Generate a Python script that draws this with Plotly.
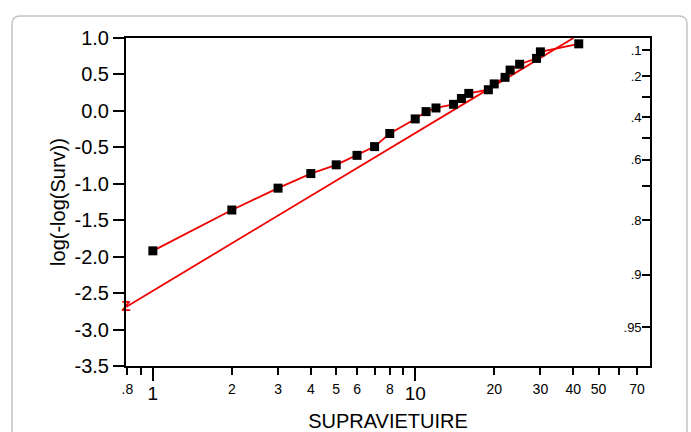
import math
import plotly.graph_objects as go

# ---- data ----
surv_time = [1, 2, 3, 4, 5, 6, 7, 8, 10, 11, 12, 14, 15, 16, 19, 20, 22, 23, 25, 29, 30, 42]
loglog_surv = [-1.92, -1.36, -1.06, -0.86, -0.74, -0.61, -0.49, -0.31, -0.11, -0.01, 0.04,
               0.09, 0.17, 0.24, 0.29, 0.37, 0.46, 0.56, 0.64, 0.72, 0.81, 0.92]
fit_time = [0.79, 40.1]
fit_value = [-2.69, 1.0]

y_ticks = [1.0, 0.5, 0.0, -0.5, -1.0, -1.5, -2.0, -2.5, -3.0, -3.5]
surv_probs = [0.1, 0.2, 0.3, 0.4, 0.5, 0.6, 0.7, 0.8, 0.9, 0.95]
surv_labels = [".1", ".2", "", ".4", "", ".6", "", ".8", ".9", ".95"]
x_major = [1, 10]
x_major_labels = ["1", "10"]
x_minor = [0.8, 0.9, 2, 3, 4, 5, 6, 7, 8, 9, 20, 30, 40, 50, 60, 70]
x_minor_labels = [".8", "", "2", "3", "4", "5", "6", "", "8", "", "20", "30", "40", "50", "", "70"]

X_RANGE = [math.log10(0.79), math.log10(78.5)]
Y_RANGE = [-3.5, 1.0]
FONT = "Liberation Sans, Arial, sans-serif"
RED = "#f00000"

fig = go.Figure()

fig.add_trace(go.Scatter(
    x=fit_time, y=fit_value, xaxis="x", yaxis="y2", mode="lines",
    line=dict(color=RED, width=1.8), showlegend=False, hoverinfo="skip"))
fig.add_trace(go.Scatter(
    x=fit_time[:1], y=fit_value[:1], xaxis="x", yaxis="y", mode="text",
    text=["<b>Z</b>"], textposition="middle center",
    textfont=dict(color=RED, size=15, family=FONT), showlegend=False, hoverinfo="skip",
    cliponaxis=False))
fig.add_trace(go.Scatter(
    x=surv_time, y=loglog_surv, xaxis="x2", yaxis="y", mode="lines+markers",
    line=dict(color=RED, width=1.8),
    marker=dict(symbol="square", size=9, color="black"),
    showlegend=False))

tick_font_small = dict(family=FONT, size=14, color="black")

fig.update_layout(
    width=691, height=432,
    margin=dict(l=126, r=41, t=38, b=66),
    paper_bgcolor="white", plot_bgcolor="white",
    font=dict(family=FONT, color="black"),
    xaxis=dict(
        type="log", range=X_RANGE, tickmode="array", tickvals=x_major,
        ticktext=x_major_labels, ticks="outside", ticklen=13, tickwidth=1.5,
        tickcolor="black", tickfont=dict(family=FONT, size=19, color="black"),
        ticklabelstandoff=-4,
        showline=True, linecolor="black", linewidth=2, mirror=True,
        showgrid=False, zeroline=False, automargin=False,
        title=dict(text="SUPRAVIETUIRE", font=dict(family=FONT, size=20, color="black"),
                   standoff=14),
    ),
    xaxis2=dict(
        type="log", range=X_RANGE, overlaying="x", anchor="y", side="bottom",
        tickmode="array", tickvals=x_minor, ticktext=x_minor_labels,
        ticks="outside", ticklen=8, tickwidth=1.5, tickcolor="black",
        tickfont=tick_font_small, ticklabelstandoff=2,
        showline=False, showgrid=False, zeroline=False, automargin=False,
    ),
    yaxis=dict(
        range=Y_RANGE, tickmode="array", tickvals=y_ticks,
        ticktext=[f"{v:.1f}" for v in y_ticks],
        ticks="outside", ticklen=11, tickwidth=1.5, tickcolor="black",
        tickfont=dict(family=FONT, size=20, color="black"),
        showline=True, linecolor="black", linewidth=2,
        showgrid=False, zeroline=False, automargin=False,
        title=dict(text="log(-log(Surv))", font=dict(family=FONT, size=20, color="black"),
                   standoff=4),
    ),
    yaxis2=dict(
        range=Y_RANGE, overlaying="y", anchor="x", side="right",
        tickmode="array",
        tickvals=[math.log(-math.log(p)) for p in surv_probs],
        ticktext=surv_labels, ticks="inside", ticklen=8, tickwidth=1.5,
        tickcolor="black", ticklabelposition="inside",
        tickfont=dict(family=FONT, size=13, color="black"),
        showline=True, linecolor="black", linewidth=2,
        showgrid=False, zeroline=False, automargin=False,
    ),
)

# outer rounded frame (decorative)
L, R, T, B = 126, 41, 38, 66
pw, ph = 691 - L - R, 432 - T - B
def px(x):
    return (x - L) / pw
def py(y):
    return (432 - B - y) / ph
x0, x1, yt, yb = px(12), px(687), py(16), py(460)
rx, ry = 8 / pw, 8 / ph
path = (f"M {x0},{yb} L {x0},{yt - ry} Q {x0},{yt} {x0 + rx},{yt} "
        f"L {x1 - rx},{yt} Q {x1},{yt} {x1},{yt - ry} L {x1},{yb}")
fig.add_shape(type="path", path=path, xref="paper", yref="paper",
              line=dict(color="#c4c4c4", width=1.5), layer="below")

fig.write_html("out.html", config={"displayModeBar": False},
               post_script="document.body.style.margin='0';document.body.style.overflow='hidden';")
